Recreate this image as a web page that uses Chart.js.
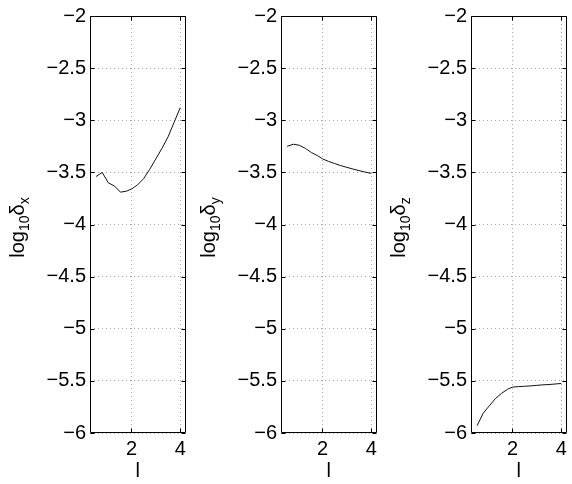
<!DOCTYPE html>
<html>
<head>
<meta charset="utf-8">
<script src="https://cdn.jsdelivr.net/npm/chart.js@4.4.1/dist/chart.umd.min.js"></script>
<style>
  html, body { margin: 0; padding: 0; background: #fff; }
  #wrap { position: relative; width: 572px; height: 484px; overflow: hidden; }
  canvas { position: absolute; top: 0; }
</style>
</head>
<body>
<div id="wrap">
  <canvas id="c0" width="190" height="484" style="left:0px"></canvas>
  <canvas id="c1" width="190" height="484" style="left:191px"></canvas>
  <canvas id="c2" width="190" height="484" style="left:381px"></canvas>
</div>
<script>
// sample positions l
const lValues = [0.55, 0.8, 1.05, 1.3, 1.55, 1.8, 2.0, 2.25, 2.5, 2.75, 3.0, 3.25, 3.5, 3.75, 4.0];

// log10 of the errors
const deltaX = [-3.54, -3.50, -3.60, -3.63, -3.69, -3.68, -3.66, -3.62, -3.56, -3.47, -3.37, -3.27, -3.16, -3.02, -2.88];
const deltaY = [-3.25, -3.23, -3.24, -3.27, -3.31, -3.34, -3.37, -3.395, -3.415, -3.435, -3.452, -3.468, -3.483, -3.497, -3.51];
const deltaZ = [-5.93, -5.81, -5.74, -5.67, -5.62, -5.58, -5.56, -5.555, -5.552, -5.548, -5.543, -5.538, -5.535, -5.53, -5.525];

const series = [deltaX, deltaY, deltaZ];
const subs = ['x', 'y', 'z'];

const xTicks = [2, 4];
const yTicks = [-6, -5.5, -5, -4.5, -4, -3.5, -3, -2.5, -2];

const FONT = '"Liberation Sans", Arial, Helvetica, sans-serif';

// box round the axes, inward tick marks, and the y label with subscripts
const matlabBox = {
    id: 'matlabBox',
    afterDraw(chart) {
        const {ctx, chartArea: a, scales} = chart;
        const L = Math.round(a.left) + 0.5, R = Math.round(a.right) - 0.5;
        const T = Math.round(a.top) + 0.5, B = Math.round(a.bottom) - 0.5;
        ctx.save();
        ctx.strokeStyle = '#000';
        ctx.lineWidth = 1;
        ctx.beginPath();
        ctx.rect(L, T, R - L, B - T);
        for (const v of yTicks) {
            const py = Math.round(scales.y.getPixelForValue(v)) + 0.5;
            ctx.moveTo(L, py); ctx.lineTo(L + 4, py);
            ctx.moveTo(R, py); ctx.lineTo(R - 4, py);
        }
        for (const v of xTicks) {
            const px = Math.round(scales.x.getPixelForValue(v)) + 0.5;
            ctx.moveTo(px, B); ctx.lineTo(px, B - 4);
            ctx.moveTo(px, T); ctx.lineTo(px, T + 4);
        }
        ctx.stroke();

        const sub = chart.options.plugins.matlabBox.sub;
        const parts = [['log', 0], ['10', 1], ['\u03b4', 0], [sub, 1]];
        ctx.translate(a.left - 66.5, (a.top + a.bottom) / 2 + 3);
        ctx.rotate(-Math.PI / 2);
        ctx.fillStyle = '#000';
        ctx.textBaseline = 'alphabetic';
        ctx.textAlign = 'left';
        let total = 0;
        for (const [t, s] of parts) {
            ctx.font = (s ? '14px ' : '20px ') + FONT;
            total += ctx.measureText(t).width;
        }
        let x = -total / 2;
        for (const [t, s] of parts) {
            ctx.font = (s ? '14px ' : '20px ') + FONT;
            ctx.fillText(t, x, s ? 5 : 0);
            x += ctx.measureText(t).width;
        }
        ctx.restore();
    }
};

series.forEach((vals, i) => {
    const ctx = document.getElementById('c' + i).getContext('2d');
    new Chart(ctx, {
        type: 'line',
        data: {
            datasets: [{
                data: lValues.map((l, k) => ({x: l, y: vals[k]})),
                borderColor: '#111',
                borderWidth: 1,
                pointRadius: 0,
                fill: false,
                tension: 0
            }]
        },
        options: {
            responsive: false,
            animation: false,
            layout: {padding: {left: 0, right: 4, top: 15, bottom: 0}},
            plugins: {
                legend: {display: false},
                tooltip: {enabled: false},
                matlabBox: {sub: subs[i]}
            },
            scales: {
                x: {
                    type: 'linear',
                    min: 0.3,
                    max: 4.22,
                    afterBuildTicks: s => { s.ticks = xTicks.map(v => ({value: v})); },
                    afterFit: s => { s.height = 51; },
                    grid: {color: '#aaa', drawTicks: false},
                    border: {display: false, dash: [1, 3]},
                    ticks: {
                        color: '#000',
                        padding: 4,
                        maxRotation: 0,
                        font: {family: FONT, size: 20}
                    },
                    title: {
                        display: true,
                        text: 'l',
                        color: '#000',
                        padding: {top: 0, bottom: 1},
                        font: {family: FONT, size: 20}
                    }
                },
                y: {
                    min: -6,
                    max: -2,
                    afterBuildTicks: s => { s.ticks = yTicks.map(v => ({value: v})); },
                    afterFit: s => { s.width = 90; },
                    grid: {color: '#aaa', drawTicks: false},
                    border: {display: false, dash: [1, 3]},
                    ticks: {
                        color: '#000',
                        padding: 4,
                        font: {family: FONT, size: 20},
                        callback: v => String(v).replace('-', '\u2212')
                    }
                }
            }
        },
        plugins: [matlabBox]
    });
});
</script>
</body>
</html>
